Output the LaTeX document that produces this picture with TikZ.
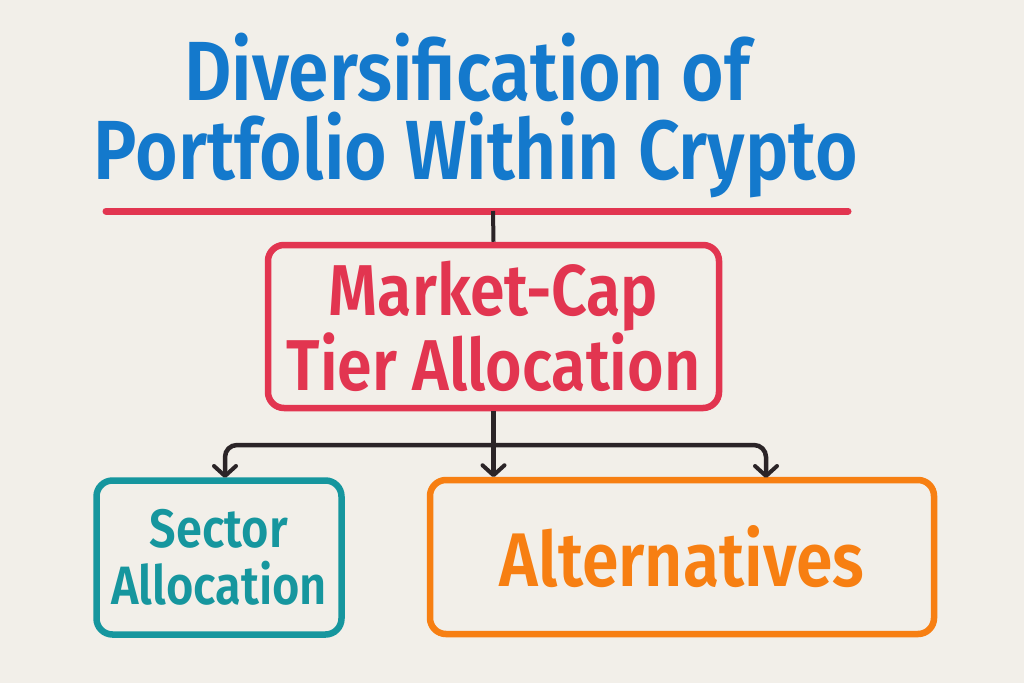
\documentclass[tikz,border=0pt]{standalone}
\usepackage{fontspec}
\setmainfont{Fira Sans}[BoldFont={Fira Sans SemiBold}]
\newfontfamily\condf{Fira Sans SemiBold}[FakeStretch=0.87]
\usetikzlibrary{arrows.meta}
\definecolor{bg}{HTML}{F2EFE9}
\definecolor{tblue}{HTML}{1479CC}
\definecolor{tred}{HTML}{E23550}
\definecolor{tteal}{HTML}{16969E}
\definecolor{torange}{HTML}{F77F12}
\definecolor{tink}{HTML}{2B2427}
\tikzset{
  box/.style={draw, line width=6.5pt, rounded corners=16pt, align=center, inner sep=0pt},
  conn/.style={draw=tink, line width=4.5pt, rounded corners=12pt},
  tip/.style={-{Straight Barb[length=10pt,width=22pt,line width=4pt,round]}},
}
\begin{document}
\begin{tikzpicture}[x=1pt,y=-1pt]
\fill[bg] (0,0) rectangle (1024,683);
\useasboundingbox (0,0) rectangle (1024,683);
\node[text=tblue, font=\condf\fontsize{84}{80}\selectfont, anchor=base] (t1) at (467,100) {Diversification of};
\node[text=tblue, font=\condf\fontsize{84}{80}\selectfont, anchor=base] (t2) at (476,179) {Portfolio Within Crypto};
\coordinate (la) at (106,211);
\coordinate (lb) at (848,211);
\draw[tred, line width=7pt, line cap=round] (la) -- (lb);
\coordinate (lm) at (493,211);
\node[box, draw=tred, text=tred, minimum width=451pt, minimum height=163pt, font=\condf\fontsize{72}{65}\selectfont] (mc) at (493.5,326.5) {Market-Cap\\Tier Allocation};
\node[box, draw=tteal, text=tteal, minimum width=245pt, minimum height=154pt, font=\condf\fontsize{54}{57}\selectfont] (sa) at (219,557.5) {Sector\\Allocation};
\node[box, draw=torange, text=torange, minimum width=504pt, minimum height=154pt, font=\condf\fontsize{76}{62}\selectfont] (al) at (682,557) {Alternatives};
\draw[tink, line width=4pt] (lm) -- (mc.north);
\coordinate (j) at (493,445);
\draw[conn, tip] (mc.south) -- (mc.south |- sa.north);
\draw[conn, tip] (j) -- (225,445) -- (225,478);
\draw[conn, tip] (j) -- (766,445) -- (766,478);
\end{tikzpicture}
\end{document}
